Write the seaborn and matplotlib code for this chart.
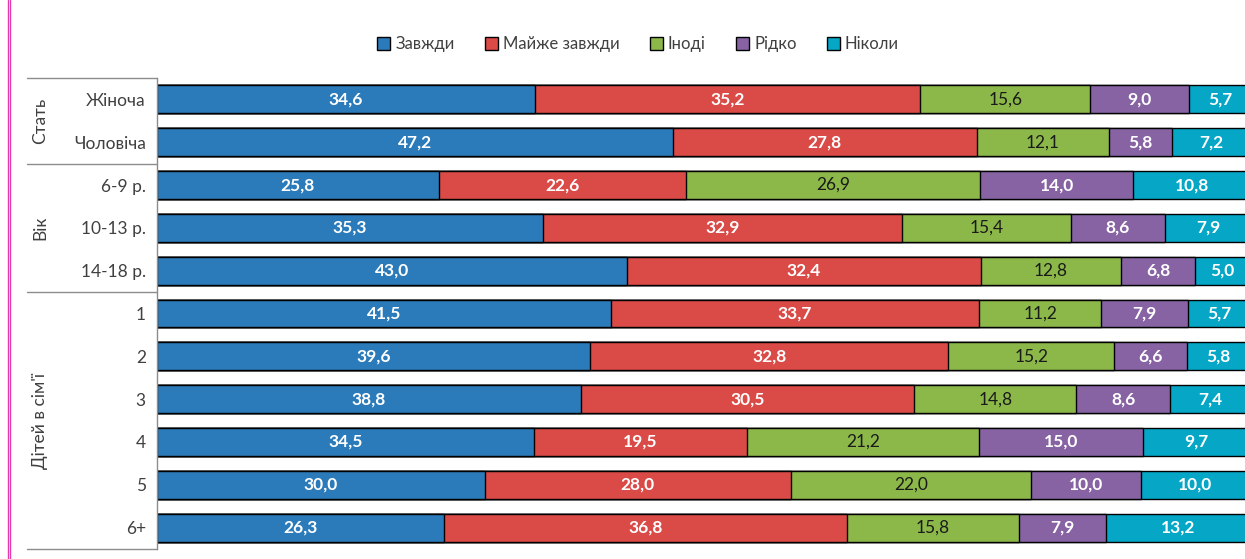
import numpy as np
import pandas as pd
import matplotlib
matplotlib.use('Agg')
import matplotlib.pyplot as plt
from matplotlib.patches import Patch
from matplotlib.lines import Line2D
import seaborn as sns

# Data (percent)
categories = ['Жіноча', 'Чоловіча', '6-9 р.', '10-13 р.', '14-18 р.',
              '1', '2', '3', '4', '5', '6+']
series = ['Завжди', 'Майже завжди', 'Іноді', 'Рідко', 'Ніколи']
always = [34.6, 47.2, 25.8, 35.3, 43.0, 41.5, 39.6, 38.8, 34.5, 30.0, 26.3]
almost = [35.2, 27.8, 22.6, 32.9, 32.4, 33.7, 32.8, 30.5, 19.5, 28.0, 36.8]
sometimes = [15.6, 12.1, 26.9, 15.4, 12.8, 11.2, 15.2, 14.8, 21.2, 22.0, 15.8]
rarely = [9.0, 5.8, 14.0, 8.6, 6.8, 7.9, 6.6, 8.6, 15.0, 10.0, 7.9]
never = [5.7, 7.2, 10.8, 7.9, 5.0, 5.7, 5.8, 7.4, 9.7, 10.0, 13.2]
groups = ['Стать', 'Вік', "Дітей в сім'ї"]
group_sizes = [2, 3, 6]

colors = ['#2B7BBA', '#DA4B47', '#8CB84A', '#8763A3', '#05A6C6']
label_colors = ['white', 'white', '#1a1a1a', 'white', 'white']

df = pd.DataFrame({'cat': categories, 'Завжди': always, 'Майже завжди': almost,
                   'Іноді': sometimes, 'Рідко': rarely, 'Ніколи': never})

sns.set_style('white')
plt.rcParams['font.family'] = ['Lato', 'DejaVu Sans']

fig = plt.figure(figsize=(12.45, 5.59), dpi=100)
# the chart runs a little past the right edge of the picture
ax = fig.add_axes([157 / 1245, 1 - 549 / 559, 1115 / 1245, 471 / 559])

vals = df[series].to_numpy()
cum = np.cumsum(vals, axis=1)
starts = cum - vals

# draw cumulative bars from the longest to the shortest so they stack
for k in range(len(series) - 1, -1, -1):
    sns.barplot(x=cum[:, k], y=df['cat'], order=categories, orient='h',
                color=colors[k], saturation=1, width=0.65,
                edgecolor='black', linewidth=1, ax=ax)

for i in range(len(categories)):
    for k in range(len(series)):
        v = vals[i, k]
        ax.text(starts[i, k] + v / 2, i, f'{v:.1f}'.replace('.', ','),
                ha='center', va='center', fontsize=12.5,
                color=label_colors[k],
                fontweight='normal' if k == 2 else 'bold')

ax.set_xlim(0, 100 * 1115 / 1093)
ax.set_ylim(len(categories) - 0.5, -0.5)
ax.set_xlabel('')
ax.set_ylabel('')
ax.set_xticks([])
ax.tick_params(axis='y', length=0, pad=8, labelsize=12.5, labelcolor='#404040')
for s in ['top', 'right', 'bottom']:
    ax.spines[s].set_visible(False)
ax.spines['left'].set_color('#8c8c8c')
ax.spines['left'].set_linewidth(1)

# group brackets and labels on the left
trans = ax.get_yaxis_transform()
x0 = (27 - 157) / 1115
edges = [-0.5]
for n in group_sizes:
    edges.append(edges[-1] + n)
for e in edges:
    ax.plot([x0, 0], [e, e], color='#8c8c8c', lw=1, transform=trans, clip_on=False)
for g, a, b in zip(groups, edges[:-1], edges[1:]):
    ax.text((40 - 157) / 1115, (a + b) / 2, g, rotation=90, ha='center', va='center',
            fontsize=12.5, color='#404040', transform=trans)

handles = [Patch(facecolor=c, edgecolor='black', linewidth=1) for c in colors]
fig.legend(handles, series, loc='center', bbox_to_anchor=(638 / 1245, 1 - 44 / 559),
           ncol=5, frameon=False, fontsize=12, handlelength=0.8, handleheight=0.8,
           handletextpad=0.3, columnspacing=1.8, labelcolor='#404040')

# page border marks on the left
for xp in [8, 10]:
    fig.add_artist(Line2D([xp / 1245, xp / 1245], [0, 1], color='#E23BB0', lw=1))

fig.savefig('out.png', dpi=100)
